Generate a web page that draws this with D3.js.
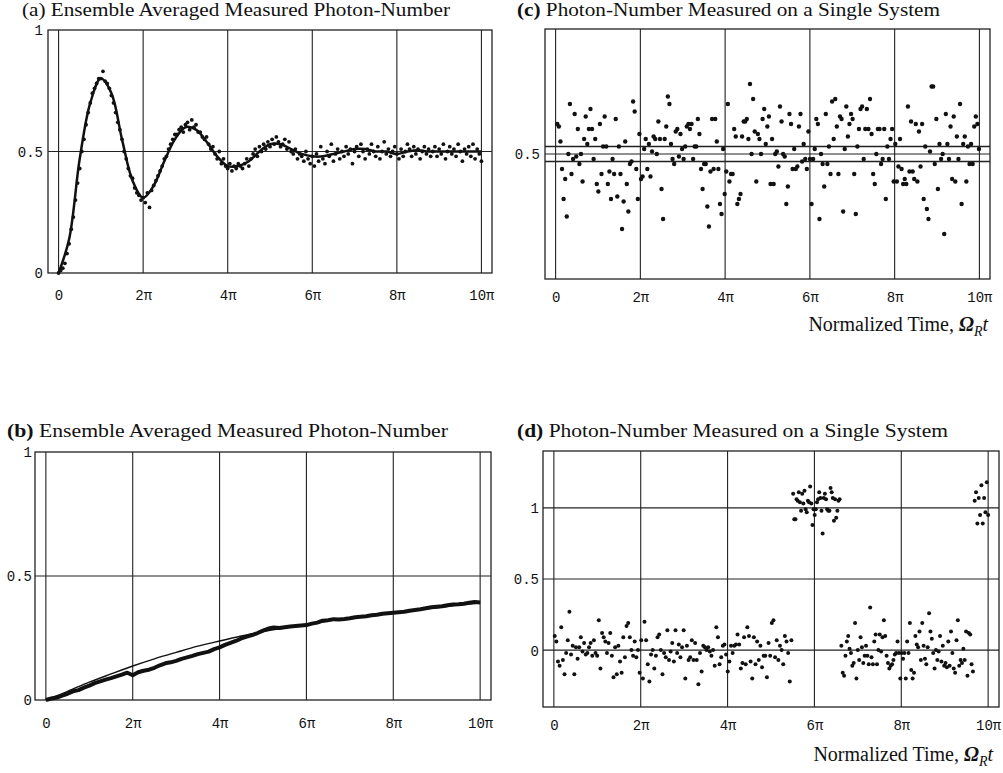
<!DOCTYPE html>
<html><head><meta charset="utf-8">
<script src="https://cdn.jsdelivr.net/npm/d3@7"></script>
<style>
body{margin:0;background:#fff;}
svg{display:block;}
.tick text{font-family:"Liberation Mono","Courier New",monospace;font-size:14px;fill:#111;}
.title{font-family:"Liberation Serif","Times New Roman",serif;font-size:19.5px;fill:#111;}
.xlab{font-family:"Liberation Serif","Times New Roman",serif;font-size:20px;fill:#111;}
</style></head>
<body>
<script>
// ---------- DATA (time in units of pi) ----------
const xTicks = [0, 2, 4, 6, 8, 10];
const xTickLabels = ["0", "2π", "4π", "6π", "8π", "10π"];

// (a) ensemble averaged, theory curve sampled every pi/4
const aCurve = [0,0.14,0.47,0.70,0.80,0.74,0.55,0.38,0.31,0.36,0.46,0.55,0.60,0.59,0.54,0.48,0.44,0.44,0.46,0.50,
  0.53,0.53,0.51,0.49,0.48,0.48,0.49,0.50,0.51,0.51,0.50,0.50,0.49,0.50,0.505,0.50,0.50,0.50,0.50,0.50,0.50];
// (a) measured dots sampled every pi/20
const aDots = [0.00,0.01,0.02,0.04,0.08,0.12,0.18,0.23,0.30,0.37,0.43,0.50,0.55,0.61,0.66,0.70,0.74,0.76,0.78,0.80,
  0.80,0.83,0.79,0.78,0.76,0.73,0.70,0.66,0.62,0.59,0.55,0.50,0.47,0.43,0.40,0.39,0.35,0.33,0.32,0.30,
  0.31,0.29,0.33,0.27,0.34,0.36,0.38,0.40,0.42,0.44,0.47,0.48,0.51,0.53,0.55,0.57,0.57,0.59,0.60,0.58,
  0.61,0.62,0.59,0.63,0.60,0.61,0.58,0.58,0.56,0.55,0.56,0.53,0.51,0.52,0.49,0.47,0.50,0.45,0.47,0.44,
  0.43,0.45,0.42,0.44,0.43,0.45,0.44,0.43,0.45,0.47,0.44,0.47,0.49,0.51,0.48,0.52,0.50,0.53,0.51,0.54,
  0.52,0.55,0.53,0.56,0.54,0.52,0.53,0.55,0.51,0.54,0.50,0.49,0.51,0.47,0.49,0.48,0.46,0.50,0.47,0.45,
  0.48,0.44,0.49,0.46,0.52,0.47,0.45,0.50,0.48,0.53,0.46,0.49,0.51,0.47,0.50,0.48,0.52,0.49,0.51,0.45,
  0.50,0.52,0.48,0.53,0.50,0.47,0.51,0.49,0.53,0.50,0.48,0.52,0.47,0.50,0.54,0.49,0.51,0.48,0.50,0.52,
  0.49,0.47,0.51,0.48,0.50,0.53,0.51,0.48,0.52,0.49,0.51,0.47,0.50,0.52,0.49,0.51,0.48,0.50,0.52,0.48,
  0.51,0.49,0.53,0.47,0.50,0.52,0.49,0.51,0.48,0.53,0.50,0.46,0.51,0.49,0.52,0.48,0.53,0.47,0.51,0.49,0.46];

// (b) ensemble averaged: measured (every pi/8) and theory (every pi/2)
const bMeasured = [0.000,0.006,0.010,0.018,0.025,0.035,0.040,0.050,0.058,0.068,0.075,0.082,0.088,0.095,0.102,0.110,
  0.100,0.112,0.118,0.122,0.130,0.140,0.148,0.152,0.158,0.166,0.172,0.178,0.185,0.190,0.195,0.205,
  0.212,0.222,0.230,0.238,0.248,0.256,0.262,0.270,0.280,0.288,0.292,0.290,0.293,0.296,0.298,0.300,
  0.302,0.308,0.312,0.320,0.322,0.326,0.325,0.327,0.330,0.334,0.336,0.338,0.342,0.344,0.348,0.350,
  0.352,0.354,0.356,0.360,0.363,0.366,0.370,0.374,0.376,0.378,0.382,0.385,0.386,0.388,0.392,0.395,0.393];
const bTheory = [0,0.035,0.072,0.105,0.137,0.166,0.192,0.217,0.238,0.258,0.276,0.290,0.303,0.318,0.330,0.341,
  0.352,0.362,0.372,0.383,0.392];

// (c) single system dots, uniformly sampled from 0.04pi to 9.99pi
const cDots = [0.62,0.61,0.55,0.44,0.32,0.40,0.25,0.50,0.70,0.42,0.48,0.66,0.49,0.60,0.46,0.50,0.39,0.56,0.65,0.54,
  0.60,0.68,0.60,0.48,0.56,0.38,0.35,0.62,0.42,0.53,0.65,0.53,0.38,0.43,0.32,0.48,0.42,0.64,0.33,0.53,
  0.42,0.20,0.31,0.55,0.38,0.27,0.46,0.47,0.71,0.67,0.44,0.32,0.58,0.40,0.41,0.52,0.56,0.44,0.54,0.41,
  0.51,0.57,0.56,0.50,0.63,0.56,0.36,0.24,0.56,0.61,0.73,0.70,0.54,0.48,0.46,0.59,0.60,0.49,0.58,0.52,
  0.48,0.53,0.61,0.62,0.60,0.62,0.48,0.53,0.53,0.64,0.58,0.44,0.36,0.46,0.46,0.29,0.21,0.43,0.64,0.44,
  0.64,0.55,0.44,0.30,0.26,0.52,0.34,0.43,0.70,0.39,0.42,0.42,0.60,0.57,0.30,0.32,0.34,0.57,0.63,0.63,
  0.64,0.56,0.78,0.50,0.72,0.59,0.39,0.58,0.56,0.50,0.64,0.68,0.54,0.61,0.65,0.38,0.56,0.38,0.50,0.51,
  0.45,0.69,0.63,0.50,0.49,0.30,0.37,0.66,0.62,0.44,0.52,0.44,0.45,0.61,0.66,0.47,0.54,0.48,0.44,0.59,
  0.48,0.30,0.48,0.52,0.64,0.62,0.24,0.50,0.46,0.37,0.66,0.46,0.53,0.42,0.71,0.56,0.72,0.61,0.42,0.65,
  0.64,0.27,0.52,0.69,0.57,0.62,0.66,0.64,0.42,0.26,0.53,0.60,0.68,0.69,0.48,0.60,0.68,0.60,0.72,0.58,
  0.42,0.38,0.50,0.60,0.60,0.46,0.48,0.60,0.32,0.53,0.48,0.56,0.60,0.39,0.54,0.39,0.45,0.56,0.44,0.38,
  0.40,0.38,0.69,0.43,0.63,0.43,0.40,0.62,0.39,0.59,0.45,0.62,0.32,0.53,0.28,0.24,0.51,0.77,0.77,0.46,
  0.64,0.36,0.54,0.48,0.50,0.18,0.66,0.54,0.48,0.61,0.40,0.65,0.39,0.57,0.48,0.70,0.30,0.54,0.57,0.39,
  0.53,0.46,0.54,0.46,0.61,0.65,0.62,0.52];
const cBands = [0.47, 0.53];

// (d) single system dots: four runs (start, end in pi) with their values
const dLow1 = [0.10,0.06,-0.08,-0.11,0.16,-0.07,-0.17,-0.02,0.07,0.27,-0.03,0.03,-0.17,0.02,-0.06,0.02,0.09,-0.01,0.05,-0.03,
  -0.02,0.02,0.05,-0.04,0.07,-0.02,-0.04,0.21,-0.13,0.12,0.09,0.06,-0.02,0.05,0.12,-0.04,-0.19,0.02,-0.17,0.03,
  -0.08,-0.16,0.09,-0.05,0.17,0.19,0.09,0.00,-0.04,0.06,-0.05,0.00,-0.16,0.07,-0.20,0.20,0.07,-0.10,-0.22,-0.03,
  0.00,-0.13,-0.04,0.09,0.11,0.00,-0.17,-0.02,-0.05,0.14,-0.07,-0.01,0.05,-0.08,0.14,-0.02,0.04,-0.05,0.02,0.14,
  -0.20,0.03,-0.07,-0.05,0.07,-0.07,0.05,-0.07,-0.24,-0.02,-0.15,0.03,0.02,0.00,0.02,-0.01,-0.04,0.00,-0.11,0.16,
  0.09,-0.10,-0.05,0.03,0.04,-0.03,-0.15,-0.08,0.03,-0.02,0.03,0.04,0.11,0.04,-0.13,-0.09,0.09,-0.10,0.16,0.10,
  -0.08,-0.20,0.09,-0.10,0.06,-0.07,0.03,-0.12,-0.04,-0.04,-0.19,0.05,-0.04,0.19,0.21,-0.05,0.07,-0.07,0.03,0.00,
  -0.10,0.10,0.06,-0.02,-0.22,0.07];
const dHigh1 = [1.10,0.92,0.92,1.06,1.05,1.11,1.04,0.98,1.10,1.03,1.12,0.99,0.97,1.05,1.04,1.15,1.03,0.88,0.99,0.95,
  0.99,1.04,1.06,1.11,1.07,0.98,0.82,1.07,1.10,1.06,0.99,0.98,0.98,1.14,1.11,1.07,0.91,1.06,0.93,0.98,1.05,1.06];
const dLow2 = [0.03,-0.16,-0.18,-0.04,0.06,0.10,0.01,-0.02,-0.11,-0.09,0.19,-0.20,0.00,-0.07,0.09,0.02,-0.09,-0.04,0.03,-0.04,
  -0.10,0.30,-0.05,-0.10,0.06,0.11,-0.10,0.00,0.11,-0.01,0.09,0.21,0.10,-0.04,-0.09,-0.13,-0.11,-0.10,-0.07,-0.03,
  -0.02,0.06,-0.02,-0.20,-0.02,-0.06,-0.02,-0.20,0.06,-0.02,0.19,-0.14,-0.20,-0.16,0.10,0.04,0.02,0.13,-0.07,0.19,
  0.03,-0.06,-0.10,0.02,0.26,0.13,0.08,-0.02,-0.13,0.00,-0.07,-0.01,0.10,-0.08,0.03,-0.11,-0.09,-0.12,0.06,-0.11,
  0.13,-0.02,-0.13,-0.16,0.07,0.21,-0.11,-0.07,-0.09,0.01,-0.07,0.13,-0.18,0.12,0.11,-0.10,-0.15];
const dHigh2 = [1.05,1.11,0.89,1.07,0.95,1.16,0.89,1.07,0.97,1.18,0.95];
const dRuns = [[0.02,5.47,dLow1],[5.51,6.58,dHigh1],[6.62,9.65,dLow2],[9.69,10.0,dHigh2]];

// ---------- DRAW ----------
const W = 1003, H = 773;
const svg = d3.select("body").append("svg").attr("width", W).attr("height", H);

function spread(vals, t0, t1) {
  const n = vals.length;
  return vals.map((v, i) => ({t: t0 + (n > 1 ? i * (t1 - t0) / (n - 1) : 0), v}));
}

function panel(cfg) {
  const g = svg.append("g");
  const x = d3.scaleLinear().domain([-0.25, 10.25]).range([cfg.left, cfg.right]);
  const y = d3.scaleLinear().domain(cfg.yDomain).range([cfg.bottom, cfg.top]);
  g.selectAll(".vg").data(xTicks).join("line")
    .attr("x1", d => x(d)).attr("x2", d => x(d)).attr("y1", cfg.top).attr("y2", cfg.bottom)
    .attr("stroke", "#222").attr("stroke-width", 1.1);
  g.selectAll(".hg").data(cfg.hGrid).join("line")
    .attr("x1", cfg.left).attr("x2", cfg.right).attr("y1", d => y(d)).attr("y2", d => y(d))
    .attr("stroke", "#222").attr("stroke-width", 1.1);
  g.append("rect").attr("x", cfg.left).attr("y", cfg.top)
    .attr("width", cfg.right - cfg.left).attr("height", cfg.bottom - cfg.top)
    .attr("fill", "none").attr("stroke", "#222").attr("stroke-width", 1.3);
  const xa = g.append("g").attr("transform", `translate(0,${cfg.xLabelY})`)
    .call(d3.axisBottom(x).tickValues(xTicks).tickSize(0).tickFormat((d, i) => xTickLabels[i]));
  xa.select(".domain").remove();
  xa.selectAll("text").attr("y", 0).attr("dy", 0);
  const ya = g.append("g").attr("transform", `translate(${cfg.yLabelX},0)`)
    .call(d3.axisLeft(y).tickValues(cfg.yTicks).tickSize(0).tickFormat(d => d === 0.5 ? "0.5" : String(d)));
  ya.select(".domain").remove();
  ya.selectAll("text").attr("x", 0).attr("dy", "0.35em");
  const tt = svg.append("text").attr("class", "title").attr("x", cfg.titleX).attr("y", cfg.titleY)
    .attr("textLength", cfg.titleLen).attr("lengthAdjust", "spacingAndGlyphs");
  tt.append("tspan").attr("font-weight", cfg.boldTag ? "bold" : "normal").text(cfg.tag);
  tt.append("tspan").text(" " + cfg.title);
  if (cfg.xLab) {
    const t = svg.append("text").attr("class", "xlab").attr("x", cfg.xLab[0]).attr("y", cfg.xLab[1])
      .attr("text-anchor", "end");
    t.append("tspan").text("Normalized Time, ");
    t.append("tspan").attr("font-style", "italic").attr("font-weight", "bold").text("Ω");
    t.append("tspan").attr("font-style", "italic").attr("font-size", "14px").attr("dy", 5).text("R");
    t.append("tspan").attr("font-style", "italic").attr("dy", -5).text("t");
  }
  return {g, x, y};
}

// (a)
{
  const p = panel({left: 48, right: 492, top: 30, bottom: 273, yDomain: [0, 1], hGrid: [0.5], yTicks: [0, 0.5, 1],
    xLabelY: 300, yLabelX: 43, titleX: 22, titleY: 16, titleLen: 428, tag: "(a)", boldTag: false,
    title: "Ensemble Averaged Measured Photon-Number"});
  p.g.append("path").datum(spread(aCurve, 0, 10))
    .attr("d", d3.line().x(d => p.x(d.t)).y(d => p.y(d.v)).curve(d3.curveCatmullRom))
    .attr("fill", "none").attr("stroke", "#111").attr("stroke-width", 2.5);
  p.g.selectAll(".ad").data(spread(aDots, 0, 10)).join("circle")
    .attr("cx", d => p.x(d.t)).attr("cy", d => p.y(d.v)).attr("r", 1.9).attr("fill", "#111");
}
// (c)
{
  const p = panel({left: 545, right: 990, top: 29, bottom: 279, yDomain: [0, 1], hGrid: [0.5], yTicks: [0.5],
    xLabelY: 302, yLabelX: 540, titleX: 517, titleY: 16, titleLen: 423, tag: "(c)", boldTag: true,
    title: "Photon-Number Measured on a Single System", xLab: [988, 331]});
  p.g.selectAll(".cb").data(cBands).join("line")
    .attr("x1", 545).attr("x2", 990).attr("y1", d => p.y(d)).attr("y2", d => p.y(d))
    .attr("stroke", "#222").attr("stroke-width", 1.3);
  p.g.selectAll(".cd").data(spread(cDots, 0.04, 9.99)).join("circle")
    .attr("cx", d => p.x(d.t)).attr("cy", d => p.y(d.v)).attr("r", 2.2).attr("fill", "#111");
}
// (b)
{
  const p = panel({left: 35, right: 491, top: 452, bottom: 700, yDomain: [0, 1], hGrid: [0.5], yTicks: [0, 0.5, 1],
    xLabelY: 728, yLabelX: 32, titleX: 7, titleY: 437, titleLen: 441, tag: "(b)", boldTag: true,
    title: "Ensemble Averaged Measured Photon-Number"});
  p.g.append("path").datum(spread(bTheory, 0, 10))
    .attr("d", d3.line().x(d => p.x(d.t)).y(d => p.y(d.v)).curve(d3.curveCatmullRom))
    .attr("fill", "none").attr("stroke", "#111").attr("stroke-width", 1.4);
  p.g.append("path").datum(spread(bMeasured, 0, 10))
    .attr("d", d3.line().x(d => p.x(d.t)).y(d => p.y(d.v)))
    .attr("fill", "none").attr("stroke", "#111").attr("stroke-width", 4).attr("stroke-linejoin", "round");
}
// (d)
{
  const p = panel({left: 543, right: 999, top: 451, bottom: 707, yDomain: [-0.4, 1.4], hGrid: [0, 0.5, 1], yTicks: [0, 0.5, 1],
    xLabelY: 730, yLabelX: 539, titleX: 517, titleY: 437, titleLen: 431, tag: "(d)", boldTag: true,
    title: "Photon-Number Measured on a Single System", xLab: [993, 761]});
  const pts = dRuns.flatMap(r => spread(r[2], r[0], r[1]));
  p.g.selectAll(".dd").data(pts).join("circle")
    .attr("cx", d => p.x(d.t)).attr("cy", d => p.y(d.v)).attr("r", 2).attr("fill", "#111");
}
</script>
</body></html>
